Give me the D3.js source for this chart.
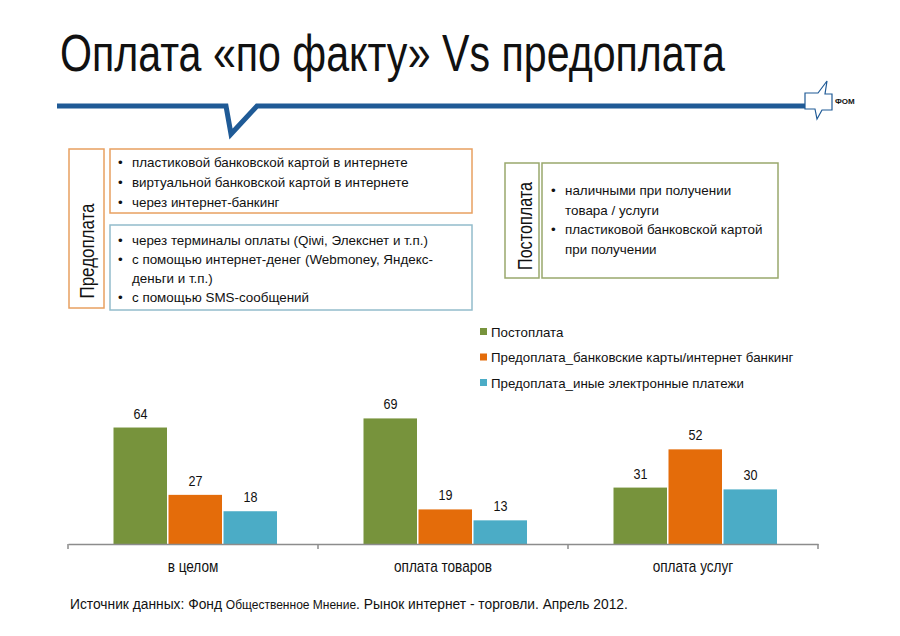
<!DOCTYPE html>
<html>
<head>
<meta charset="utf-8">
<script src="https://cdn.jsdelivr.net/npm/d3@7"></script>
<style>
  body { margin: 0; background: #fff; }
  svg { display: block; }
  text { font-family: "Liberation Sans", Arial, sans-serif; fill: #111; }
</style>
</head>
<body>
<div id="chart"></div>
<script>
const categories = ["в целом", "оплата товаров", "оплата услуг"];
const seriesNames = ["Постоплата", "Предоплата_банковские карты/интернет банкинг", "Предоплата_иные электронные платежи"];
const postpay = [64, 69, 31];
const prepayCards = [27, 19, 52];
const prepayOther = [18, 13, 30];
const colors = ["#77933c", "#e46c0a", "#4bacc6"];

const prepayCardItems = ["пластиковой банковской картой в интернете", "виртуальной банковской картой в интернете", "через интернет-банкинг"];
const prepayOtherItems = [["через терминалы оплаты (Qiwi, Элекснет и т.п.)"], ["с помощью интернет-денег (Webmoney, Яндекс-", "деньги и т.п.)"], ["с помощью SMS-сообщений"]];
const postpayItems = [["наличными при получении", "товара / услуги"], ["пластиковой банковской картой", "при получении"]];

const svg = d3.select("#chart").append("svg")
    .attr("width", 900)
    .attr("height", 636);

svg.append("rect").attr("width", 900).attr("height", 636).attr("fill", "#fff");

// title (narrow face squeezed to width)
svg.append("text")
    .attr("x", 60)
    .attr("y", 71)
    .attr("textLength", 665)
    .attr("lengthAdjust", "spacingAndGlyphs")
    .style("font-size", "52px")
    .text("Оплата «по факту» Vs предоплата");

// header line with notch
svg.append("path")
    .attr("d", "M57,106 L226,106 L231,134 L257,106 L806,106")
    .attr("fill", "none")
    .attr("stroke", "#1f5a96")
    .attr("stroke-width", 5)
    .attr("stroke-linejoin", "miter");

// logo
svg.append("path")
    .attr("d", "M805,93 L818,93 L827,81 L825,94 L832,94 L832,110 L822,110 L817,119 L815,109 L805,109 Z")
    .attr("fill", "#fff")
    .attr("stroke", "#1f5a96")
    .attr("stroke-width", 1.2);
svg.append("text")
    .attr("x", 835)
    .attr("y", 104)
    .style("font-size", "8px")
    .style("font-weight", "bold")
    .text("ФОМ");

// boxes
function box(x, y, w, h, stroke) {
    svg.append("rect")
        .attr("x", x).attr("y", y).attr("width", w).attr("height", h)
        .attr("fill", "#fff")
        .attr("stroke", stroke)
        .attr("stroke-width", 1.5);
}

function vlabel(bx, cy, len, label) {
    svg.append("text")
        .attr("transform", `translate(${bx},${cy}) rotate(-90)`)
        .attr("text-anchor", "middle")
        .attr("textLength", len)
        .attr("lengthAdjust", "spacingAndGlyphs")
        .style("font-size", "21px")
        .text(label);
}

function bullets(x, y0, lineH, items) {
    let y = y0;
    items.forEach(lines => {
        svg.append("text")
            .attr("x", x).attr("y", y)
            .style("font-size", "13.4px")
            .text("•");
        lines.forEach(line => {
            svg.append("text")
                .attr("x", x + 14).attr("y", y)
                .style("font-size", "13.4px")
                .text(line);
            y += lineH;
        });
    });
}

box(69, 149, 35, 159, "#e8a060");
vlabel(94, 251, 95, "Предоплата");
box(110, 149, 362, 64, "#e8a060");
bullets(118, 167, 20, prepayCardItems.map(d => [d]));
box(110, 225, 362, 85, "#93bccb");
bullets(118, 245, 19, prepayOtherItems);

box(505, 163, 34, 115, "#99a86c");
vlabel(532, 226, 88, "Постоплата");
box(542, 163, 236, 115, "#99a86c");
bullets(551, 195, 19.5, postpayItems);

// legend
const legend = svg.append("g");
seriesNames.forEach((name, i) => {
    const g = legend.append("g").attr("transform", `translate(480,${332 + i * 25.5})`);
    g.append("rect").attr("x", 0).attr("y", -4).attr("width", 7).attr("height", 7).attr("fill", colors[i]);
    g.append("text").attr("x", 11).attr("y", 0).attr("dominant-baseline", "central")
        .style("font-size", "13.3px").text(name);
});

// bar chart
const series = [postpay, prepayCards, prepayOther];
const x0 = d3.scaleBand().domain(categories).range([68, 818]);
const x1 = d3.scaleBand().domain(d3.range(3)).range([45, 210]);
const y = d3.scaleLinear().domain([0, 100]).range([544, 362]);

const groups = svg.selectAll(".group")
    .data(categories)
    .enter().append("g")
    .attr("transform", d => `translate(${x0(d)},0)`);

groups.selectAll("rect")
    .data((d, ci) => series.map((s, si) => ({ si, v: s[ci] })))
    .enter().append("rect")
    .attr("x", d => x1(d.si) + 0.5)
    .attr("y", d => y(d.v))
    .attr("width", x1.bandwidth() - 1.5)
    .attr("height", d => y(0) - y(d.v))
    .attr("fill", d => colors[d.si]);

groups.selectAll(".val")
    .data((d, ci) => series.map((s, si) => ({ si, v: s[ci] })))
    .enter().append("text")
    .attr("transform", d => `translate(${x1(d.si) + x1.bandwidth() / 2},${y(d.v) - 9}) scale(0.84,1)`)
    .attr("text-anchor", "middle")
    .style("font-size", "15px")
    .text(d => d.v);

const axis = svg.append("g")
    .attr("transform", "translate(0,544)")
    .call(d3.axisBottom(x0).tickSize(0).tickPadding(17));
axis.attr("font-family", null);
axis.select(".domain").attr("stroke", "#8c8c8c").attr("stroke-width", 1.5);
axis.selectAll("text")
    .attr("transform", "scale(0.85,1)")
    .style("font-size", "16px")
    .attr("fill", "#111");
axis.selectAll(".bound")
    .data(categories.map(c => x0(c)).concat([818]))
    .enter().append("line")
    .attr("x1", d => d).attr("x2", d => d)
    .attr("y1", 0).attr("y2", 5)
    .attr("stroke", "#8c8c8c")
    .attr("stroke-width", 1.5);

// source
const src = svg.append("text")
    .attr("x", 70)
    .attr("y", 609)
    .style("font-size", "13.8px");
src.append("tspan").text("Источник данных: Фонд ");
src.append("tspan").style("font-size", "12px").text("Общественное Мнение");
src.append("tspan").text(". Рынок интернет - торговли. Апрель 2012.");
</script>
</body>
</html>
